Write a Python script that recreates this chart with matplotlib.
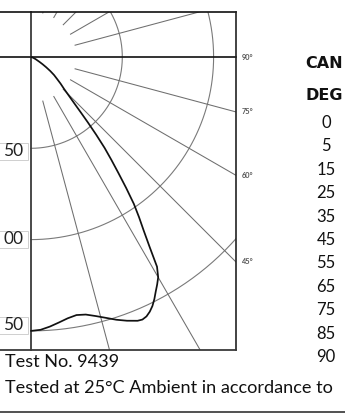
import numpy as np
import matplotlib
matplotlib.use("Agg")
import matplotlib.pyplot as plt
from matplotlib.transforms import Affine2D
from matplotlib.patches import Rectangle

plt.rcParams['font.family'] = ['Lato', 'DejaVu Sans']

# ---------------- data ----------------
curve_angles = [0, 2, 4, 6, 8, 10, 12, 14, 16, 18, 20, 22, 23, 24, 25, 26, 27, 28, 29, 30,
                31, 32, 33, 34, 35, 36, 37, 38, 39, 40, 41, 42, 43, 44, 45, 46, 48, 50,
                52, 54, 56, 58, 60, 65, 70, 75, 80, 85, 90]
curve_values = [150, 149.5, 148, 146.2, 144.5, 143.5, 144.2, 146.2, 148.6, 151.3, 153.7,
                155.8, 156.2, 155.5, 153.9, 151.7, 148.8, 145.5, 142.5, 139.3,
                134, 122.5, 113.3, 105.8, 98.2, 88.7, 79.5, 71.5, 64, 55.5, 47.5, 40.5,
                35, 31, 27.8, 25.2, 21.8, 18.5, 16, 13, 10, 7.5, 5.5, 2.8, 1.3, 0.6,
                0.2, 0, 0]
ring_values = [50, 100, 150]
ring_labels = ["50", "00", "50"]          # as visible in the cropped reference
radial_angles = [15, 30, 45, 60, 75, 105, 120, 135, 150, 165]
edge_angle_labels = ["90°", "75°", "60°", "45°"]
edge_angles = [90, 75, 60, 45]
table_header = ["CAN", "DEG"]             # as visible in the cropped reference
table_degrees = ["0", "5", "15", "25", "35", "45", "55", "65", "75", "85", "90"]
footer_lines = ["Test No. 9439", "Tested at 25°C Ambient in accordance to"]

# ---------------- layout ----------------
W, H = 345, 416
S = 1.826           # pixels per candela unit
OX, OY = 31, 57     # polar origin in pixels (from top-left)

fig = plt.figure(figsize=(W / 100, H / 100), dpi=100)
ax = fig.add_axes([0, 0, 1, 1])
ax.set_xlim(-OX / S, (W - OX) / S)
ax.set_ylim(-(H - OY) / S, OY / S)
ax.axis('off')

pix = Affine2D().scale(1, -1).translate(0, H)   # pixel coords from top-left


def dx(px):
    return (px - OX) / S


def dy(py):
    return (OY - py) / S


box_l, box_r = dx(-5), dx(236)
box_t, box_b = dy(12), dy(350)
clip = Rectangle((box_l, box_b), box_r - box_l, box_t - box_b, transform=ax.transData,
                 fill=False, lw=0)
ax.add_patch(clip)

# rings (right half)
th = np.radians(np.linspace(0, 180, 400))
for v in ring_values:
    ln, = ax.plot(v * np.sin(th), -v * np.cos(th), color='#7a7a7a', lw=0.8)
    ln.set_clip_path(clip)

# radial lines
for a in radial_angles:
    r = np.array([25, 400])
    t = np.radians(a)
    ln, = ax.plot(r * np.sin(t), -r * np.cos(t), color='#6e6e6e', lw=0.75)
    ln.set_clip_path(clip)

# axes lines and box
ax.plot([box_l, box_r], [0, 0], color='#111111', lw=1.2)
ax.plot([0, 0], [box_b, box_t], color='#3a3a3a', lw=1.3)
ax.plot([box_l, box_r], [box_t, box_t], color='#111111', lw=1.2)
ax.plot([box_r, box_r], [box_b, box_t], color='#222222', lw=1.2)
ax.plot([box_l, box_r], [box_b, box_b], color='#3a3a3a', lw=1.3)

# candela curve
ca = np.radians(curve_angles)
cv = np.array(curve_values)
ax.plot(cv * np.sin(ca), -cv * np.cos(ca), color='#111111', lw=1.25, solid_capstyle='round')

# ring labels with boxes
label_centers = [151, 239.5, 325.5]
for lab, cy in zip(ring_labels, label_centers):
    ax.add_patch(Rectangle((dx(-10), dy(cy + 8.5)), dx(28) - dx(-10), 17 / S,
                           facecolor='white', edgecolor='#c8c8c8', lw=0.6, zorder=4))
    fig.text(23, cy, lab, transform=pix, ha='right', va='center', fontsize=12.5,
             color='#222222', zorder=5)

# angle labels at right edge
for lab, a in zip(edge_angle_labels, edge_angles):
    t = np.radians(a)
    yv = -(box_r) / np.tan(t) if a != 90 else 0.0
    ypix = OY - yv * S
    fig.text(242, ypix, lab, transform=pix, ha='left', va='center', fontsize=5.3,
             fontweight='bold', color='#555555')

# table
for txt, yy in zip(table_header, [64, 96]):
    fig.text(343, yy, txt, transform=pix, ha='right', va='center', fontsize=11.5,
             fontweight='bold', family='DejaVu Sans', color='#111111')
for i, d in enumerate(table_degrees):
    fig.text(326, 123 + i * 23.4, d, transform=pix, ha='center', va='center', fontsize=12,
             color='#111111')

# footer
t1 = fig.text(5, 367, footer_lines[0], transform=pix, ha='left', va='baseline',
              fontsize=12.5, color='#111111')
t2 = fig.text(5, 393, footer_lines[1], transform=pix, ha='left', va='baseline',
              fontsize=12.5, color='#111111')
fig.canvas.draw()
r = fig.canvas.get_renderer()
w2 = t2.get_window_extent(r).width
scale = 330.0 / w2
t1.set_fontsize(12.5 * scale)
t2.set_fontsize(12.5 * scale)

fig.add_artist(plt.Line2D([0, W], [412, 412], transform=pix, color='#333333', lw=1.2))

fig.savefig("out.png", dpi=100)
